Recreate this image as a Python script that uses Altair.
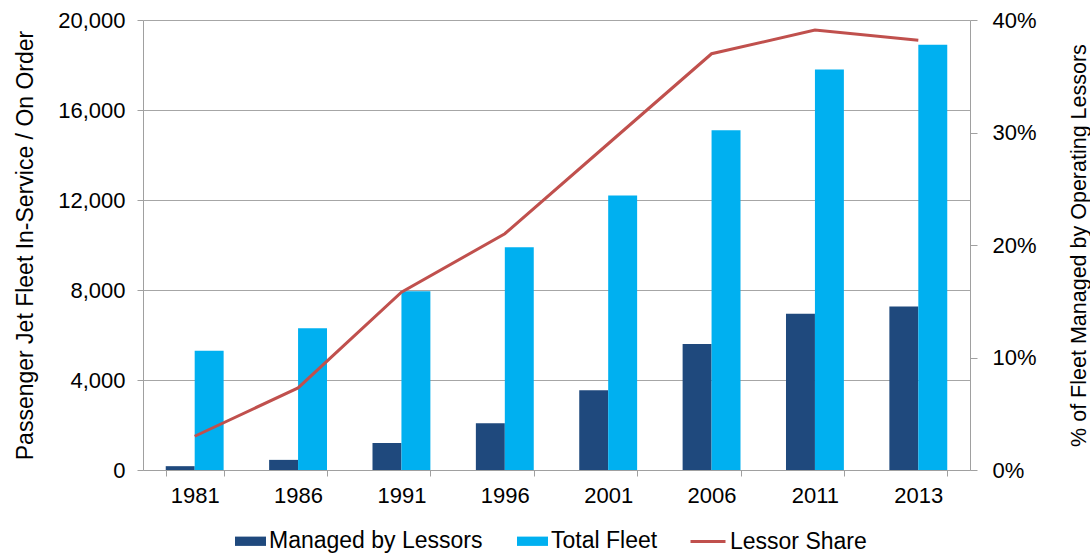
import altair as alt
import pandas as pd

years = ["1981", "1986", "1991", "1996", "2001", "2006", "2011", "2013"]
managed = [170, 450, 1200, 2080, 3550, 5600, 6950, 7270]
total = [5300, 6300, 7950, 9900, 12200, 15100, 17800, 18900]
share_pct = [3.0, 7.3, 15.8, 21.0, 29.0, 37.0, 39.1, 38.2]

series = ["Managed by Lessors", "Total Fleet"]
bar_colors = ["#1F497D", "#00B0F0"]
line_name = ["Lessor Share"]
line_color = ["#C0504D"]
left_ticks = [0, 4000, 8000, 12000, 16000, 20000]
right_ticks = [0, 0.1, 0.2, 0.3, 0.4]

bars_df = pd.DataFrame({
    "year": years * 2,
    "series": [series[0]] * len(years) + [series[1]] * len(years),
    "value": managed + total,
})
line_df = pd.DataFrame({
    "year": years,
    "share": [s / 100 for s in share_pct],
    "name": line_name * len(years),
})

FONT = "Liberation Sans"

x_enc = alt.X(
    "year:N", sort=years,
    scale=alt.Scale(paddingInner=0.44, paddingOuter=0.22),
    axis=alt.Axis(title=None, labelAngle=0, tickBand="extent", tickSize=6,
                  labelPadding=9, labelFontSize=22, labelColor="#000000",
                  domainColor="#a0a0a0", tickColor="#a0a0a0", grid=False),
)

bars = alt.Chart(bars_df).mark_bar().encode(
    x=x_enc,
    xOffset=alt.XOffset("series:N", sort=series,
                        scale=alt.Scale(paddingInner=0, paddingOuter=0)),
    y=alt.Y("value:Q",
            scale=alt.Scale(domain=[0, 20000], nice=False),
            axis=alt.Axis(values=left_ticks, format=",.0f", grid=True,
                          gridColor="#a6a6a6", domainColor="#a0a0a0",
                          tickColor="#a0a0a0", tickSize=6, labelPadding=12,
                          labelFontSize=22, labelColor="#000000",
                          title="Passenger Jet Fleet In-Service / On Order",
                          titleFontSize=23, titleFontWeight="normal",
                          titleColor="#000000", titlePadding=20)),
    color=alt.Color("series:N", sort=series,
                    scale=alt.Scale(domain=series, range=bar_colors),
                    legend=alt.Legend(orient="none", legendX=92, legendY=505.5,
                                      direction="horizontal", title=None,
                                      symbolType="M-1,-0.3H1V0.3H-1Z",
                                      symbolSize=961, symbolStrokeWidth=0,
                                      labelFontSize=23, labelColor="#000000",
                                      labelLimit=400, labelOffset=3,
                                      columnPadding=34)),
)

line = alt.Chart(line_df).mark_line(strokeWidth=3).encode(
    x=alt.X("year:N", sort=years),
    y=alt.Y("share:Q",
            scale=alt.Scale(domain=[0, 0.4], nice=False),
            axis=alt.Axis(values=right_ticks, format=".0%", orient="right",
                          grid=False, domainColor="#a0a0a0",
                          tickColor="#a0a0a0", tickSize=7, labelPadding=15,
                          labelFontSize=22, labelColor="#000000",
                          title="% of Fleet Managed by Operating Lessors",
                          titleFontSize=21.5, titleFontWeight="normal",
                          titleColor="#000000", titleAngle=270,
                          titlePadding=54)),
    stroke=alt.Stroke("name:N",
                      scale=alt.Scale(domain=line_name, range=line_color),
                      legend=alt.Legend(orient="none", legendX=546, legendY=502.5,
                                        direction="horizontal", title=None,
                                        symbolType="stroke", symbolSize=1225,
                                        symbolStrokeWidth=3,
                                        labelFontSize=23, labelColor="#000000",
                                        labelLimit=400, labelOffset=3)),
)

chart = alt.layer(bars, line).resolve_scale(y="independent").properties(
    width=827, height=450,
    autosize=alt.AutoSizeParams(type="none"),
    padding={"left": 143, "top": 20, "right": 120, "bottom": 86},
).configure(font=FONT).configure_view(stroke=None)

chart.save("out.html", embed_options={"renderer": "svg", "actions": False})
